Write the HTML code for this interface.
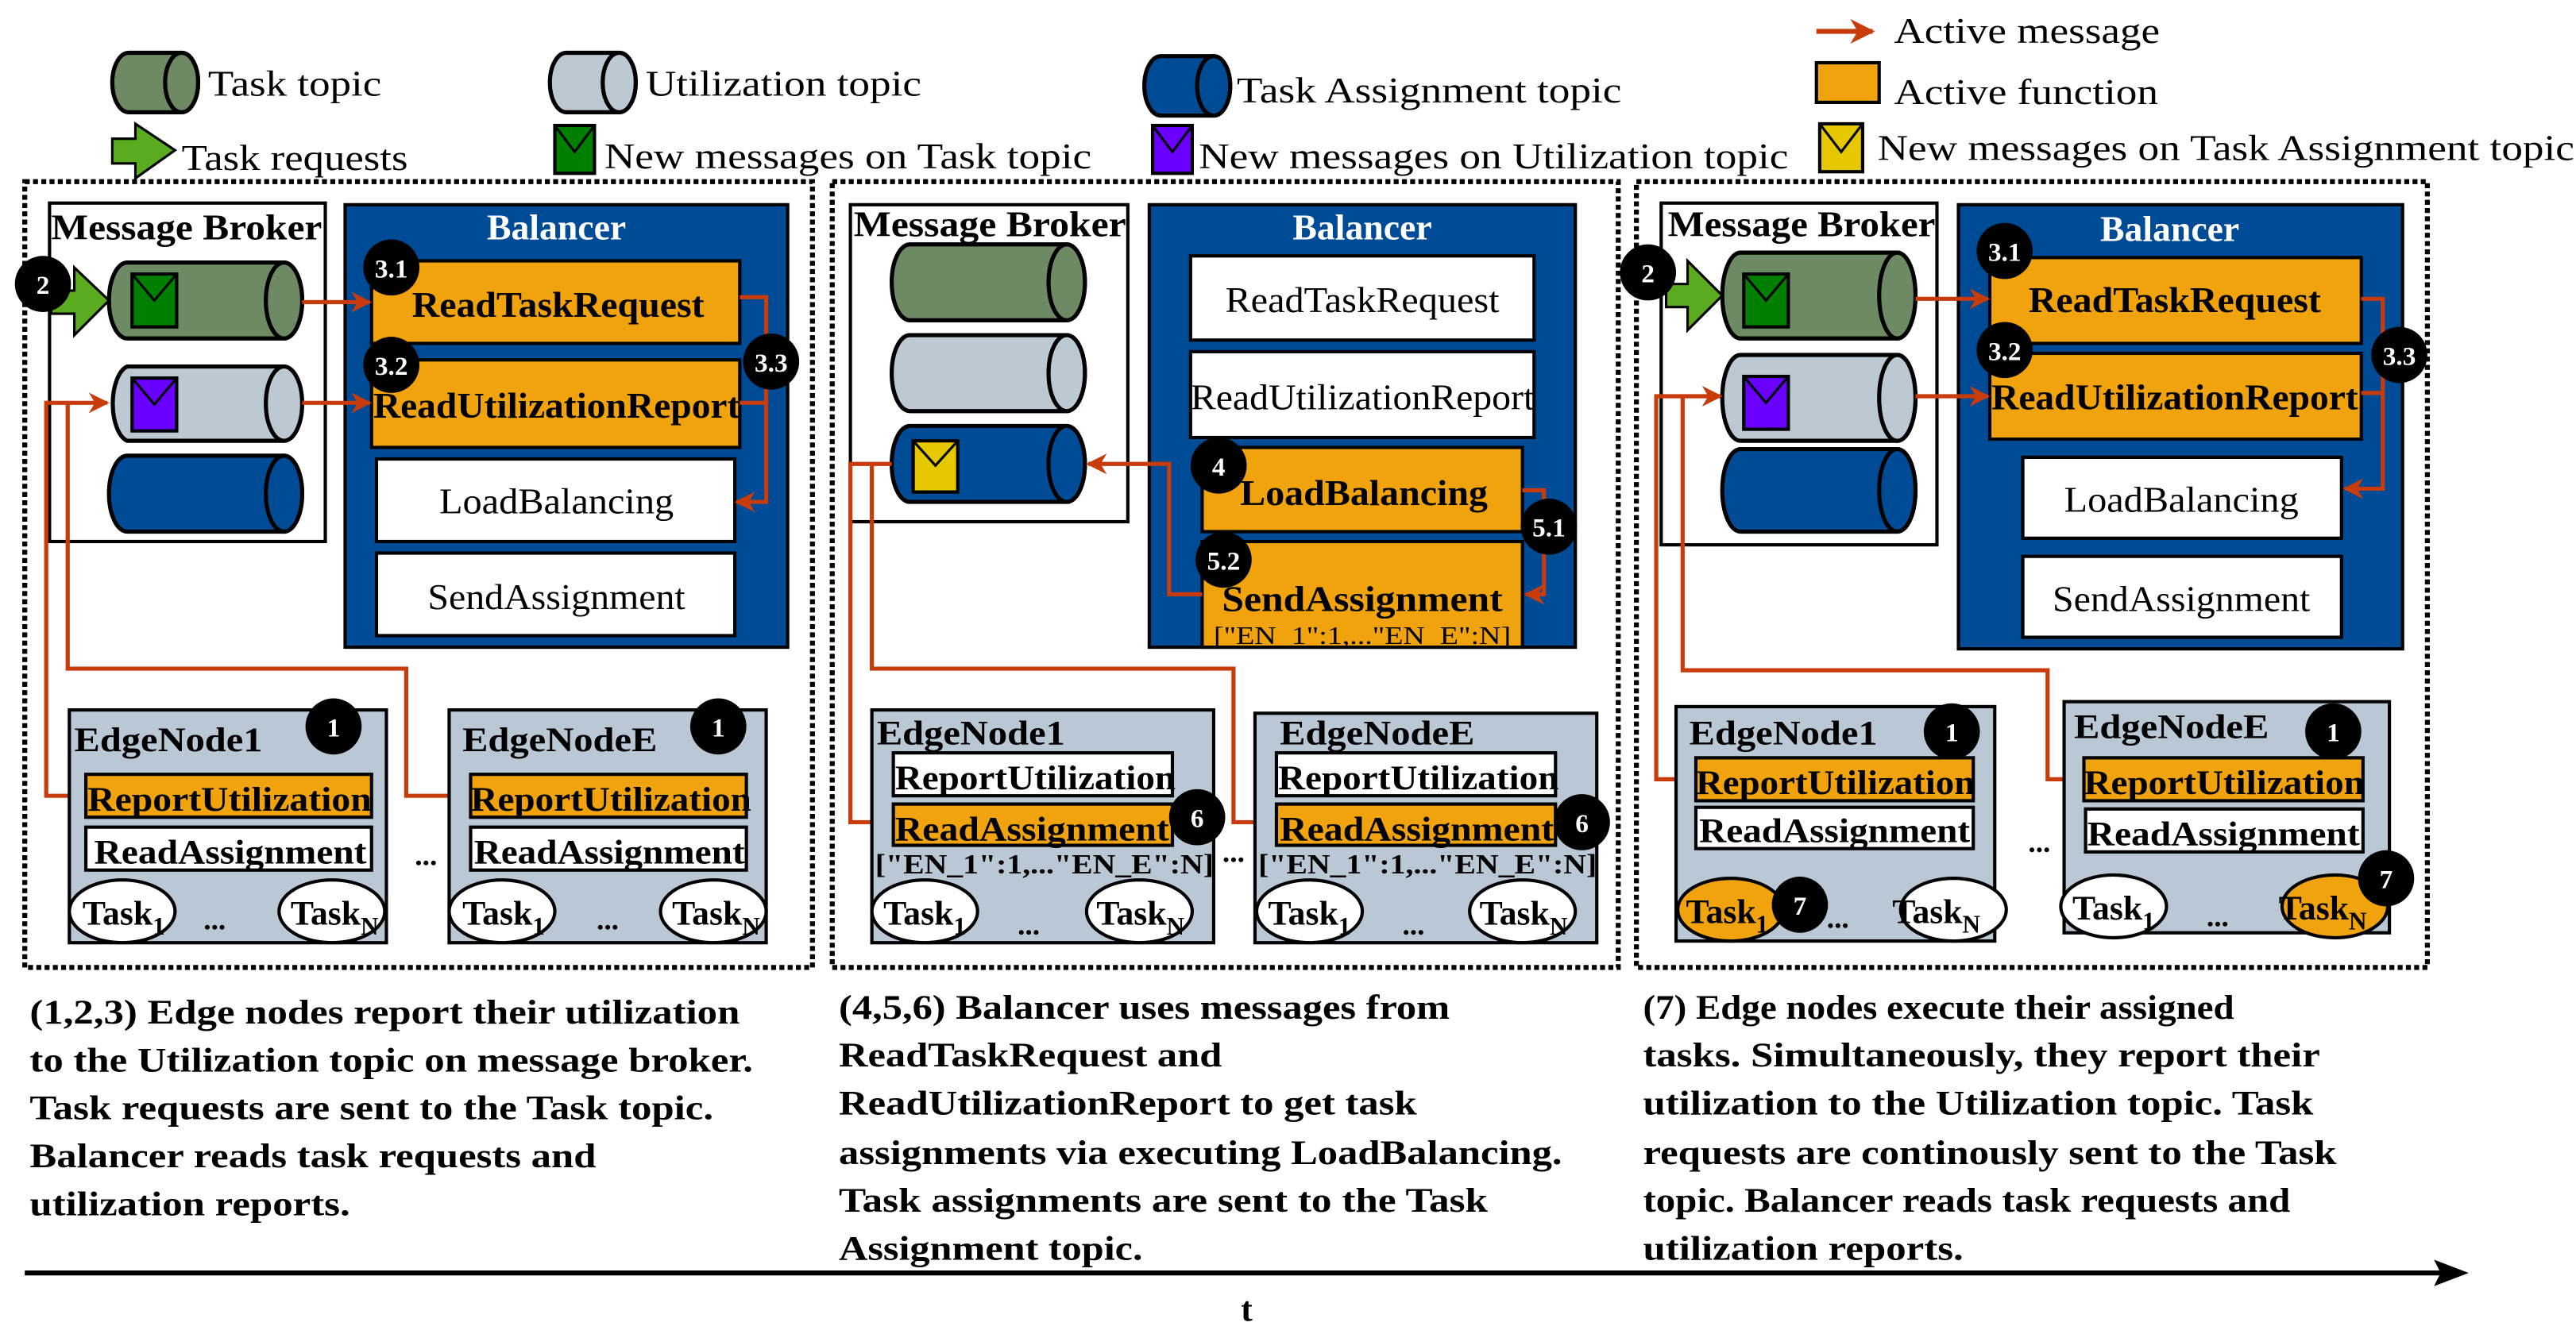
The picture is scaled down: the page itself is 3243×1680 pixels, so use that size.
<!DOCTYPE html>
<html><head><meta charset="utf-8"><style>
html,body{margin:0;padding:0;background:#fff}
svg{display:block}
text{font-family:"Liberation Serif","DejaVu Serif",serif}
.b{font-weight:bold}
</style></head><body>
<svg width="3243" height="1680" viewBox="0 0 1560 808" preserveAspectRatio="none" xmlns="http://www.w3.org/2000/svg">
<defs>
<marker id="ar" viewBox="0 0 10 10" refX="9" refY="5" markerWidth="5" markerHeight="5" orient="auto" markerUnits="strokeWidth">
<path d="M0,0 L10,5 L0,10 L3,5 Z" fill="#c83c0c"/></marker>
</defs>
<g id="legend">
<path d="M78,32 L110,32 A10,18 0 0 1 110,68 L78,68 A10,18 0 0 1 78,32 Z" fill="#6e8a64" stroke="#000" stroke-width="2.5"/>
<ellipse cx="110" cy="50" rx="10" ry="18" fill="#6e8a64" stroke="#000" stroke-width="2.5"/>
<text x="126" y="58" font-size="22" textLength="105" lengthAdjust="spacingAndGlyphs">Task topic</text>
<path d="M343,32 L375,32 A10,18 0 0 1 375,68 L343,68 A10,18 0 0 1 343,32 Z" fill="#bcc8d2" stroke="#000" stroke-width="2.5"/>
<ellipse cx="375" cy="50" rx="10" ry="18" fill="#bcc8d2" stroke="#000" stroke-width="2.5"/>
<text x="391" y="58" font-size="22" textLength="167" lengthAdjust="spacingAndGlyphs">Utilization topic</text>
<path d="M703,34 L735,34 A10,18 0 0 1 735,70 L703,70 A10,18 0 0 1 703,34 Z" fill="#004b96" stroke="#000" stroke-width="2.5"/>
<ellipse cx="735" cy="52" rx="10" ry="18" fill="#004b96" stroke="#000" stroke-width="2.5"/>
<text x="749" y="62" font-size="22" textLength="233" lengthAdjust="spacingAndGlyphs">Task Assignment topic</text>
<line x1="1100" y1="19" x2="1134" y2="19" stroke="#c83c0c" stroke-width="3" marker-end="url(#ar)"/>
<text x="1147" y="26" font-size="22" textLength="161" lengthAdjust="spacingAndGlyphs">Active message</text>
<rect x="1100" y="38" width="38" height="24" fill="#f0a30c" stroke="#000" stroke-width="2"/>
<text x="1147" y="63" font-size="22" textLength="160" lengthAdjust="spacingAndGlyphs">Active function</text>
<path d="M68,84 L82,84 L82,75 L106,91 L82,108 L82,99 L68,99 Z" fill="#5aac1e" stroke="#000" stroke-width="1.5"/>
<text x="110" y="103" font-size="22" textLength="137" lengthAdjust="spacingAndGlyphs">Task requests</text>
<rect x="336" y="76" width="24" height="29" fill="#008000" stroke="#000" stroke-width="2"/><path d="M336,76 L348,92 L360,76" fill="none" stroke="#000" stroke-width="1.5"/>
<text x="366" y="102" font-size="22" textLength="295" lengthAdjust="spacingAndGlyphs">New messages on Task topic</text>
<rect x="698" y="76" width="24" height="29" fill="#6a00ff" stroke="#000" stroke-width="2"/><path d="M698,76 L710,92 L722,76" fill="none" stroke="#000" stroke-width="1.5"/>
<text x="726" y="102" font-size="22" textLength="357" lengthAdjust="spacingAndGlyphs">New messages on Utilization topic</text>
<rect x="1102" y="75" width="26" height="29" fill="#e6c800" stroke="#000" stroke-width="2"/><path d="M1102,75 L1115,92 L1128,75" fill="none" stroke="#000" stroke-width="1.5"/>
<text x="1137" y="97" font-size="22" textLength="422" lengthAdjust="spacingAndGlyphs">New messages on Task Assignment topic</text>
</g>

<!-- ================= PANEL 1 ================= -->
<rect x="15" y="110" width="477" height="476" fill="none" stroke="#000" stroke-width="3" stroke-dasharray="3 2"/>
<rect x="30" y="123" width="167" height="205" fill="#fff" stroke="#000" stroke-width="2"/>
<text x="31" y="145" font-size="22" class="b" textLength="164" lengthAdjust="spacingAndGlyphs">Message Broker</text>
<path d="M77,159 L172,159 A11,23 0 0 1 172,205 L77,205 A11,23 0 0 1 77,159 Z" fill="#6e8a64" stroke="#000" stroke-width="2.5"/><ellipse cx="172" cy="182" rx="11" ry="23" fill="#6e8a64" stroke="#000" stroke-width="2.5"/>
<path d="M77,222 L172,222 A11,23 0 0 1 172,267 L77,267 A11,23 0 0 1 77,222 Z" fill="#bcc8d2" stroke="#000" stroke-width="2.5"/><ellipse cx="172" cy="244.5" rx="11" ry="22.5" fill="#bcc8d2" stroke="#000" stroke-width="2.5"/>
<path d="M77,276 L172,276 A11,23 0 0 1 172,322 L77,322 A11,23 0 0 1 77,276 Z" fill="#004b96" stroke="#000" stroke-width="2.5"/><ellipse cx="172" cy="299" rx="11" ry="23" fill="#004b96" stroke="#000" stroke-width="2.5"/>
<rect x="80" y="166" width="27" height="32" fill="#008000" stroke="#000" stroke-width="2"/><path d="M80,166 L93.5,182 L107,166" fill="none" stroke="#000" stroke-width="1.5"/>
<rect x="80" y="229" width="27" height="32" fill="#6a00ff" stroke="#000" stroke-width="2"/><path d="M80,229 L93.5,245 L107,229" fill="none" stroke="#000" stroke-width="1.5"/>
<path d="M31,176 L45,176 L45,162 L66,182 L45,203 L45,190 L31,190 Z" fill="#5aac1e" stroke="#000" stroke-width="1.5"/>
<rect x="209" y="124" width="268" height="268" fill="#004b96" stroke="#000" stroke-width="2"/>
<text x="337" y="145" font-size="22" class="b" fill="#fff" text-anchor="middle">Balancer</text>
<rect x="225" y="158" width="223" height="50" fill="#f0a30c" stroke="#000" stroke-width="2"/>
<text x="338" y="192" font-size="22" class="b" text-anchor="middle" textLength="177" lengthAdjust="spacingAndGlyphs">ReadTaskRequest</text>
<rect x="225" y="218" width="223" height="53" fill="#f0a30c" stroke="#000" stroke-width="2"/>
<text x="337" y="253" font-size="22" class="b" text-anchor="middle" textLength="222" lengthAdjust="spacingAndGlyphs">ReadUtilizationReport</text>
<rect x="228" y="278" width="217" height="50" fill="#fff" stroke="#000" stroke-width="2"/>
<text x="337" y="311" font-size="22" text-anchor="middle" textLength="142" lengthAdjust="spacingAndGlyphs">LoadBalancing</text>
<rect x="228" y="335" width="217" height="50" fill="#fff" stroke="#000" stroke-width="2"/>
<text x="337" y="369" font-size="22" text-anchor="middle" textLength="156" lengthAdjust="spacingAndGlyphs">SendAssignment</text>
<g stroke="#c83c0c" stroke-width="2.5" fill="none">
<line x1="183" y1="183" x2="224" y2="183" marker-end="url(#ar)"/>
<line x1="183" y1="244" x2="224" y2="244" marker-end="url(#ar)"/>
<path d="M448,180 L464,180 L464,304 L446,304" marker-end="url(#ar)"/>
<path d="M448,244 L464,244"/>
<path d="M52,482 L28,482 L28,244 L65,244" marker-end="url(#ar)"/>
<path d="M285,482 L246,482 L246,405 L41,405 L41,244"/>
</g>
<rect x="42" y="430" width="192" height="141" fill="#b9c8d4" stroke="#000" stroke-width="2"/>
<text x="45" y="455" font-size="21" class="b" textLength="114" lengthAdjust="spacingAndGlyphs">EdgeNode1</text>
<rect x="52" y="469" width="173" height="26" fill="#f0a30c" stroke="#000" stroke-width="2"/>
<text x="53" y="491" font-size="21" class="b" textLength="172" lengthAdjust="spacingAndGlyphs">ReportUtilization</text>
<rect x="52" y="501" width="173" height="26" fill="#fff" stroke="#000" stroke-width="2"/>
<text x="57" y="523" font-size="21" class="b" textLength="165" lengthAdjust="spacingAndGlyphs">ReadAssignment</text>
<ellipse cx="74" cy="552" rx="32" ry="19" fill="#fff" stroke="#000" stroke-width="2"/>
<text x="50" y="560" font-size="21" class="b">Task<tspan font-size="15" dy="6">1</tspan></text>
<ellipse cx="201" cy="552" rx="32" ry="19" fill="#fff" stroke="#000" stroke-width="2"/>
<text x="176" y="560" font-size="21" class="b">Task<tspan font-size="15" dy="6">N</tspan></text>
<text x="130" y="563" font-size="18" class="b" text-anchor="middle">...</text>
<rect x="272" y="430" width="192" height="141" fill="#b9c8d4" stroke="#000" stroke-width="2"/>
<text x="280" y="455" font-size="21" class="b" textLength="118" lengthAdjust="spacingAndGlyphs">EdgeNodeE</text>
<rect x="285" y="469" width="167" height="26" fill="#f0a30c" stroke="#000" stroke-width="2"/>
<text x="285" y="491" font-size="21" class="b" textLength="170" lengthAdjust="spacingAndGlyphs">ReportUtilization</text>
<rect x="285" y="501" width="167" height="26" fill="#fff" stroke="#000" stroke-width="2"/>
<text x="287" y="523" font-size="21" class="b" textLength="164" lengthAdjust="spacingAndGlyphs">ReadAssignment</text>
<ellipse cx="304" cy="552" rx="32" ry="19" fill="#fff" stroke="#000" stroke-width="2"/>
<text x="280" y="560" font-size="21" class="b">Task<tspan font-size="15" dy="6">1</tspan></text>
<ellipse cx="432" cy="552" rx="32" ry="19" fill="#fff" stroke="#000" stroke-width="2"/>
<text x="407" y="560" font-size="21" class="b">Task<tspan font-size="15" dy="6">N</tspan></text>
<text x="368" y="563" font-size="18" class="b" text-anchor="middle">...</text>
<text x="258" y="524" font-size="18" class="b" text-anchor="middle">...</text>
<g font-size="16" class="b" fill="#fff" text-anchor="middle">
<circle cx="26" cy="172" r="17" fill="#000"/><text x="26" y="178">2</text>
<circle cx="237" cy="162" r="17" fill="#000"/><text x="237" y="168">3.1</text>
<circle cx="237" cy="221" r="17" fill="#000"/><text x="237" y="227">3.2</text>
<circle cx="467" cy="219" r="17" fill="#000"/><text x="467" y="225">3.3</text>
<circle cx="202" cy="440" r="17" fill="#000"/><text x="202" y="446">1</text>
<circle cx="435" cy="440" r="17" fill="#000"/><text x="435" y="446">1</text>
</g>

<!-- ================= PANEL 2 ================= -->
<rect x="504" y="110" width="476" height="476" fill="none" stroke="#000" stroke-width="3" stroke-dasharray="3 2"/>
<rect x="515" y="124" width="168" height="192" fill="#fff" stroke="#000" stroke-width="2"/>
<text x="517" y="143" font-size="22" class="b" textLength="165" lengthAdjust="spacingAndGlyphs">Message Broker</text>
<path d="M551,148 L646,148 A11,23 0 0 1 646,194 L551,194 A11,23 0 0 1 551,148 Z" fill="#6e8a64" stroke="#000" stroke-width="2.5"/><ellipse cx="646" cy="171" rx="11" ry="23" fill="#6e8a64" stroke="#000" stroke-width="2.5"/>
<path d="M551,203 L646,203 A11,23 0 0 1 646,249 L551,249 A11,23 0 0 1 551,203 Z" fill="#bcc8d2" stroke="#000" stroke-width="2.5"/><ellipse cx="646" cy="226" rx="11" ry="23" fill="#bcc8d2" stroke="#000" stroke-width="2.5"/>
<path d="M551,258 L646,258 A11,23 0 0 1 646,304 L551,304 A11,23 0 0 1 551,258 Z" fill="#004b96" stroke="#000" stroke-width="2.5"/><ellipse cx="646" cy="281" rx="11" ry="23" fill="#004b96" stroke="#000" stroke-width="2.5"/>
<rect x="553" y="267" width="27" height="31" fill="#e6c800" stroke="#000" stroke-width="2"/><path d="M553,267 L566.5,282 L580,267" fill="none" stroke="#000" stroke-width="1.5"/>
<rect x="696" y="124" width="258" height="268" fill="#004b96" stroke="#000" stroke-width="2"/>
<text x="825" y="145" font-size="22" class="b" fill="#fff" text-anchor="middle">Balancer</text>
<rect x="721" y="155" width="208" height="51" fill="#fff" stroke="#000" stroke-width="2"/>
<text x="825" y="189" font-size="22" text-anchor="middle" textLength="166" lengthAdjust="spacingAndGlyphs">ReadTaskRequest</text>
<rect x="721" y="213" width="208" height="52" fill="#fff" stroke="#000" stroke-width="2"/>
<text x="825" y="248" font-size="22" text-anchor="middle" textLength="208" lengthAdjust="spacingAndGlyphs">ReadUtilizationReport</text>
<rect x="728" y="271" width="194" height="51" fill="#f0a30c" stroke="#000" stroke-width="2"/>
<text x="826" y="306" font-size="22" class="b" text-anchor="middle" textLength="150" lengthAdjust="spacingAndGlyphs">LoadBalancing</text>
<rect x="728" y="328" width="194" height="64" fill="#f0a30c" stroke="#000" stroke-width="2"/>
<text x="825" y="370" font-size="22" class="b" text-anchor="middle" textLength="170" lengthAdjust="spacingAndGlyphs">SendAssignment</text>
<text x="825" y="390" font-size="15" text-anchor="middle" textLength="180" lengthAdjust="spacingAndGlyphs">["EN_1":1,..."EN_E":N]</text>
<g stroke="#c83c0c" stroke-width="2.5" fill="none">
<path d="M922,297 L935,297 L935,360 L924,360" marker-end="url(#ar)"/>
<path d="M728,360 L708,360 L708,281 L659,281" marker-end="url(#ar)"/>
<path d="M540,281 L515,281 L515,498 L541,498" marker-end="url(#ar)"/>
<path d="M528,281 L528,405 L747,405 L747,498 L773,498" marker-end="url(#ar)"/>
</g>
<rect x="528" y="430" width="207" height="141" fill="#b9c8d4" stroke="#000" stroke-width="2"/>
<text x="531" y="451" font-size="21" class="b" textLength="114" lengthAdjust="spacingAndGlyphs">EdgeNode1</text>
<rect x="541" y="456" width="169" height="26" fill="#fff" stroke="#000" stroke-width="2"/>
<text x="542" y="478" font-size="21" class="b" textLength="170" lengthAdjust="spacingAndGlyphs">ReportUtilization</text>
<rect x="541" y="487" width="169" height="25" fill="#f0a30c" stroke="#000" stroke-width="2"/>
<text x="542" y="509" font-size="21" class="b" textLength="166" lengthAdjust="spacingAndGlyphs">ReadAssignment</text>
<text x="530" y="529" font-size="17" class="b" textLength="205" lengthAdjust="spacingAndGlyphs">["EN_1":1,..."EN_E":N]</text>
<ellipse cx="560" cy="552" rx="32" ry="19" fill="#fff" stroke="#000" stroke-width="2"/>
<text x="535" y="560" font-size="21" class="b">Task<tspan font-size="15" dy="6">1</tspan></text>
<ellipse cx="690" cy="552" rx="32" ry="19" fill="#fff" stroke="#000" stroke-width="2"/>
<text x="664" y="560" font-size="21" class="b">Task<tspan font-size="15" dy="6">N</tspan></text>
<text x="623" y="566" font-size="18" class="b" text-anchor="middle">...</text>
<rect x="760" y="432" width="207" height="139" fill="#b9c8d4" stroke="#000" stroke-width="2"/>
<text x="775" y="451" font-size="21" class="b" textLength="118" lengthAdjust="spacingAndGlyphs">EdgeNodeE</text>
<rect x="773" y="456" width="169" height="26" fill="#fff" stroke="#000" stroke-width="2"/>
<text x="774" y="478" font-size="21" class="b" textLength="170" lengthAdjust="spacingAndGlyphs">ReportUtilization</text>
<rect x="773" y="487" width="169" height="25" fill="#f0a30c" stroke="#000" stroke-width="2"/>
<text x="775" y="509" font-size="21" class="b" textLength="166" lengthAdjust="spacingAndGlyphs">ReadAssignment</text>
<text x="762" y="529" font-size="17" class="b" textLength="205" lengthAdjust="spacingAndGlyphs">["EN_1":1,..."EN_E":N]</text>
<ellipse cx="793" cy="552" rx="32" ry="19" fill="#fff" stroke="#000" stroke-width="2"/>
<text x="768" y="560" font-size="21" class="b">Task<tspan font-size="15" dy="6">1</tspan></text>
<ellipse cx="922" cy="552" rx="32" ry="19" fill="#fff" stroke="#000" stroke-width="2"/>
<text x="896" y="560" font-size="21" class="b">Task<tspan font-size="15" dy="6">N</tspan></text>
<text x="856" y="566" font-size="18" class="b" text-anchor="middle">...</text>
<text x="747" y="522" font-size="18" class="b" text-anchor="middle">...</text>
<g font-size="16" class="b" fill="#fff" text-anchor="middle">
<circle cx="738" cy="282" r="17" fill="#000"/><text x="738" y="288">4</text>
<circle cx="741" cy="339" r="17" fill="#000"/><text x="741" y="345">5.2</text>
<circle cx="938" cy="319" r="17" fill="#000"/><text x="938" y="325">5.1</text>
<circle cx="725" cy="495" r="17" fill="#000"/><text x="725" y="501">6</text>
<circle cx="958" cy="498" r="17" fill="#000"/><text x="958" y="504">6</text>
</g>

<!-- ================= PANEL 3 ================= -->
<rect x="991" y="110" width="479" height="476" fill="none" stroke="#000" stroke-width="3" stroke-dasharray="3 2"/>
<rect x="1006" y="123" width="167" height="207" fill="#fff" stroke="#000" stroke-width="2"/>
<text x="1010" y="143" font-size="22" class="b" textLength="162" lengthAdjust="spacingAndGlyphs">Message Broker</text>
<path d="M1054,153 L1149,153 A11,26 0 0 1 1149,205 L1054,205 A11,26 0 0 1 1054,153 Z" fill="#6e8a64" stroke="#000" stroke-width="2.5"/><ellipse cx="1149" cy="179" rx="11" ry="26" fill="#6e8a64" stroke="#000" stroke-width="2.5"/>
<path d="M1054,215 L1149,215 A11,26 0 0 1 1149,267 L1054,267 A11,26 0 0 1 1054,215 Z" fill="#bcc8d2" stroke="#000" stroke-width="2.5"/><ellipse cx="1149" cy="241" rx="11" ry="26" fill="#bcc8d2" stroke="#000" stroke-width="2.5"/>
<path d="M1054,272 L1149,272 A11,25 0 0 1 1149,322 L1054,322 A11,25 0 0 1 1054,272 Z" fill="#004b96" stroke="#000" stroke-width="2.5"/><ellipse cx="1149" cy="297" rx="11" ry="25" fill="#004b96" stroke="#000" stroke-width="2.5"/>
<rect x="1056" y="166" width="27" height="32" fill="#008000" stroke="#000" stroke-width="2"/><path d="M1056,166 L1069.5,182 L1083,166" fill="none" stroke="#000" stroke-width="1.5"/>
<rect x="1056" y="228" width="27" height="32" fill="#6a00ff" stroke="#000" stroke-width="2"/><path d="M1056,228 L1069.5,244 L1083,228" fill="none" stroke="#000" stroke-width="1.5"/>
<path d="M1009,172 L1022,172 L1022,158 L1043,179 L1022,200 L1022,186 L1009,186 Z" fill="#5aac1e" stroke="#000" stroke-width="1.5"/>
<rect x="1186" y="124" width="269" height="269" fill="#004b96" stroke="#000" stroke-width="2"/>
<text x="1314" y="146" font-size="22" class="b" fill="#fff" text-anchor="middle">Balancer</text>
<rect x="1205" y="156" width="225" height="52" fill="#f0a30c" stroke="#000" stroke-width="2"/>
<text x="1317" y="189" font-size="22" class="b" text-anchor="middle" textLength="177" lengthAdjust="spacingAndGlyphs">ReadTaskRequest</text>
<rect x="1205" y="214" width="225" height="52" fill="#f0a30c" stroke="#000" stroke-width="2"/>
<text x="1317" y="248" font-size="22" class="b" text-anchor="middle" textLength="222" lengthAdjust="spacingAndGlyphs">ReadUtilizationReport</text>
<rect x="1225" y="277" width="193" height="49" fill="#fff" stroke="#000" stroke-width="2"/>
<text x="1321" y="310" font-size="22" text-anchor="middle" textLength="142" lengthAdjust="spacingAndGlyphs">LoadBalancing</text>
<rect x="1225" y="337" width="193" height="49" fill="#fff" stroke="#000" stroke-width="2"/>
<text x="1321" y="370" font-size="22" text-anchor="middle" textLength="156" lengthAdjust="spacingAndGlyphs">SendAssignment</text>
<g stroke="#c83c0c" stroke-width="2.5" fill="none">
<line x1="1160" y1="181" x2="1204" y2="181" marker-end="url(#ar)"/>
<line x1="1160" y1="240" x2="1204" y2="240" marker-end="url(#ar)"/>
<path d="M1430,181 L1443,181 L1443,296 L1420,296" marker-end="url(#ar)"/>
<path d="M1430,238 L1443,238"/>
<path d="M1027,472 L1003,472 L1003,240 L1042,240" marker-end="url(#ar)"/>
<path d="M1262,472 L1240,472 L1240,406 L1019,406 L1019,240"/>
<line x1="1110" y1="514" x2="1060" y2="533" marker-end="url(#ar)"/>
<line x1="1325" y1="517" x2="1405" y2="536" marker-end="url(#ar)"/>
</g>
<rect x="1015" y="428" width="193" height="142" fill="#b9c8d4" stroke="#000" stroke-width="2"/>
<text x="1023" y="451" font-size="21" class="b" textLength="114" lengthAdjust="spacingAndGlyphs">EdgeNode1</text>
<rect x="1027" y="459" width="168" height="26" fill="#f0a30c" stroke="#000" stroke-width="2"/>
<text x="1027" y="481" font-size="21" class="b" textLength="169" lengthAdjust="spacingAndGlyphs">ReportUtilization</text>
<rect x="1027" y="489" width="168" height="25" fill="#fff" stroke="#000" stroke-width="2"/>
<text x="1029" y="510" font-size="21" class="b" textLength="164" lengthAdjust="spacingAndGlyphs">ReadAssignment</text>
<ellipse cx="1048" cy="551" rx="32" ry="19" fill="#f0a30c" stroke="#000" stroke-width="2"/>
<text x="1021" y="559" font-size="21" class="b">Task<tspan font-size="15" dy="6">1</tspan></text>
<ellipse cx="1183" cy="551" rx="32" ry="19" fill="#fff" stroke="#000" stroke-width="2"/>
<text x="1146" y="559" font-size="21" class="b">Task<tspan font-size="15" dy="6">N</tspan></text>
<text x="1113" y="562" font-size="18" class="b" text-anchor="middle">...</text>
<rect x="1250" y="425" width="197" height="140" fill="#b9c8d4" stroke="#000" stroke-width="2"/>
<text x="1256" y="447" font-size="21" class="b" textLength="118" lengthAdjust="spacingAndGlyphs">EdgeNodeE</text>
<rect x="1262" y="459" width="169" height="26" fill="#f0a30c" stroke="#000" stroke-width="2"/>
<text x="1262" y="481" font-size="21" class="b" textLength="170" lengthAdjust="spacingAndGlyphs">ReportUtilization</text>
<rect x="1263" y="490" width="168" height="26" fill="#fff" stroke="#000" stroke-width="2"/>
<text x="1264" y="512" font-size="21" class="b" textLength="165" lengthAdjust="spacingAndGlyphs">ReadAssignment</text>
<ellipse cx="1280" cy="549" rx="32" ry="19" fill="#fff" stroke="#000" stroke-width="2"/>
<text x="1255" y="557" font-size="21" class="b">Task<tspan font-size="15" dy="6">1</tspan></text>
<ellipse cx="1414" cy="549" rx="32" ry="19" fill="#f0a30c" stroke="#000" stroke-width="2"/>
<text x="1380" y="557" font-size="21" class="b">Task<tspan font-size="15" dy="6">N</tspan></text>
<text x="1343" y="561" font-size="18" class="b" text-anchor="middle">...</text>
<text x="1235" y="516" font-size="18" class="b" text-anchor="middle">...</text>
<g font-size="16" class="b" fill="#fff" text-anchor="middle">
<circle cx="998" cy="165" r="17" fill="#000"/><text x="998" y="171">2</text>
<circle cx="1214" cy="152" r="17" fill="#000"/><text x="1214" y="158">3.1</text>
<circle cx="1214" cy="212" r="17" fill="#000"/><text x="1214" y="218">3.2</text>
<circle cx="1453" cy="215" r="17" fill="#000"/><text x="1453" y="221">3.3</text>
<circle cx="1182" cy="443" r="17" fill="#000"/><text x="1182" y="449">1</text>
<circle cx="1413" cy="443" r="17" fill="#000"/><text x="1413" y="449">1</text>
<circle cx="1090" cy="548" r="17" fill="#000"/><text x="1090" y="554">7</text>
<circle cx="1445" cy="532" r="17" fill="#000"/><text x="1445" y="538">7</text>
</g>

<g font-size="21" class="b">
<text x="18" y="620" textLength="430" lengthAdjust="spacingAndGlyphs">(1,2,3) Edge nodes report their utilization</text>
<text x="18" y="649" textLength="438" lengthAdjust="spacingAndGlyphs">to the Utilization topic on message broker.</text>
<text x="18" y="678" textLength="414" lengthAdjust="spacingAndGlyphs">Task requests are sent to the Task topic.</text>
<text x="18" y="707" textLength="343" lengthAdjust="spacingAndGlyphs">Balancer reads task requests and</text>
<text x="18" y="736" textLength="194" lengthAdjust="spacingAndGlyphs">utilization reports.</text>
<text x="508" y="617" textLength="370" lengthAdjust="spacingAndGlyphs">(4,5,6) Balancer uses messages from</text>
<text x="508" y="646" textLength="232" lengthAdjust="spacingAndGlyphs">ReadTaskRequest and</text>
<text x="508" y="675" textLength="350" lengthAdjust="spacingAndGlyphs">ReadUtilizationReport to get task</text>
<text x="508" y="705" textLength="438" lengthAdjust="spacingAndGlyphs">assignments via executing LoadBalancing.</text>
<text x="508" y="734" textLength="393" lengthAdjust="spacingAndGlyphs">Task assignments are sent to  the Task</text>
<text x="508" y="763" textLength="184" lengthAdjust="spacingAndGlyphs">Assignment topic.</text>
<text x="995" y="617" textLength="358" lengthAdjust="spacingAndGlyphs">(7) Edge nodes execute their assigned</text>
<text x="995" y="646" textLength="410" lengthAdjust="spacingAndGlyphs">tasks. Simultaneously, they report their</text>
<text x="995" y="675" textLength="406" lengthAdjust="spacingAndGlyphs">utilization to the Utilization topic. Task</text>
<text x="995" y="705" textLength="420" lengthAdjust="spacingAndGlyphs">requests are continously sent to the Task</text>
<text x="995" y="734" textLength="392" lengthAdjust="spacingAndGlyphs">topic. Balancer reads task requests and</text>
<text x="995" y="763" textLength="194" lengthAdjust="spacingAndGlyphs">utilization reports.</text>
</g>
<line x1="15" y1="771" x2="1478" y2="771" stroke="#000" stroke-width="3"/>
<path d="M1495,771 L1474,763 L1478,771 L1474,779 Z" fill="#000"/>
<text x="755" y="800" font-size="21" class="b" text-anchor="middle">t</text>
</svg>
</body></html>
